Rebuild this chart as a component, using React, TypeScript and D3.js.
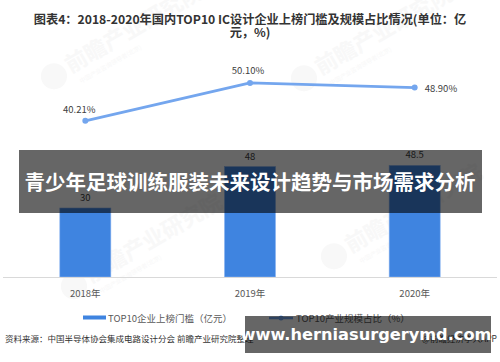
import React from 'react'
import * as d3 from 'd3'

const years = ['2018年', '2019年', '2020年']
const thresholds = [30, 48, 48.5]
const shares = [40.21, 50.1, 48.9]
const shareLabels = ['40.21%', '50.10%', '48.90%']

const W = 500
const H = 362
const FONT = '"Noto Sans CJK SC", "Noto Sans", sans-serif'
const BAR_COLOR = '#3f84e0'
const LINE_COLOR = '#74a6ee'

// faint logo watermarks behind the chart
const marks = [
  { x: 70, y: 60 }, { x: 320, y: 62 }, { x: 90, y: 270 }, { x: 350, y: 240 },
]

export default function App() {
  const x = d3.scaleBand<string>().domain(years).range([3, 497]).paddingInner(0.69).paddingOuter(0.345)
  const yBar = d3.scaleLinear().domain([0, 60]).range([277, 139])
  const yLine = d3.scaleLinear().domain([0, 60]).range([275, 45])
  const cx = (d: string) => (x(d) ?? 0) + x.bandwidth() / 2

  const line = d3.line<number>()
    .x((_, i) => cx(years[i]))
    .y(d => yLine(d))

  return (
    <svg width={W} height={H} style={{ position: 'absolute', left: 0, top: 0, background: '#fff' }} fontFamily={FONT}>
      {marks.map((m, i) => (
        <g key={i} transform={`translate(${m.x},${m.y}) rotate(-30)`} opacity={0.4}>
          <circle cx={-22} cy={6} r={13} fill="#eeeeee" />
          <text x={-6} y={12} fontSize={22} fontWeight="bold" fill="#eeeeee">前瞻产业研究院</text>
          <text x={-2} y={26} fontSize={6} fill="#eeeeee">中国产业咨询领导者(北京)</text>
        </g>
      ))}

      <text x={250} y={24} textAnchor="middle" fontSize={12.2} fontWeight="bold" fill="#333">
        图表4：2018-2020年国内TOP10 IC设计企业上榜门槛及规模占比情况(单位：亿
      </text>
      <text x={250} y={37} textAnchor="middle" fontSize={12.2} fontWeight="bold" fill="#333">元，%)</text>

      {years.map((d, i) => (
        <g key={d}>
          <rect x={x(d)} y={yBar(thresholds[i])} width={x.bandwidth()} height={yBar(0) - yBar(thresholds[i])}
            fill={BAR_COLOR} stroke="#8db5f0" strokeWidth={0.6} />
          <text x={cx(d)} y={yBar(thresholds[i]) - 7} textAnchor="middle" fontSize={9.5} fill="#404040">
            {thresholds[i]}
          </text>
        </g>
      ))}

      <line x1={3} x2={497} y1={277.5} y2={277.5} stroke="#d9d9d9" strokeWidth={1} />
      {years.map(d => (
        <text key={d} x={cx(d)} y={297} textAnchor="middle" fontSize={9.5} fill="#595959">{d}</text>
      ))}

      <path d={line(shares) ?? ''} fill="none" stroke={LINE_COLOR} strokeWidth={2.8} strokeLinejoin="round" />
      {shares.map((v, i) => (
        <circle key={i} cx={cx(years[i])} cy={yLine(v)} r={3} fill={LINE_COLOR} />
      ))}
      <text x={cx(years[0]) - 6} y={yLine(shares[0]) - 8} textAnchor="middle" fontSize={9.5} fill="#404040">{shareLabels[0]}</text>
      <text x={cx(years[1]) - 2} y={yLine(shares[1]) - 9} textAnchor="middle" fontSize={9.5} fill="#404040">{shareLabels[1]}</text>
      <text x={cx(years[2]) + 10} y={yLine(shares[2]) + 4} textAnchor="start" fontSize={9.5} fill="#404040">{shareLabels[2]}</text>

      <rect x={83} y={315.5} width={23} height={4} fill={BAR_COLOR} />
      <text x={108} y={321.5} fontSize={9.5} fill="#595959">TOP10企业上榜门槛（亿元）</text>
      <line x1={269} x2={293} y1={318} y2={318} stroke={LINE_COLOR} strokeWidth={2.5} />
      <circle cx={281} cy={318} r={2.5} fill={LINE_COLOR} />
      <text x={296} y={321.5} fontSize={9.5} fill="#595959">TOP10产业规模占比（%）</text>

      <text x={5} y={342} fontSize={8.5} fill="#333">资料来源：中国半导体协会集成电路设计分会 前瞻产业研究院整理</text>
      <text x={497} y={342} textAnchor="end" fontSize={8.5} fill="#333">@前瞻经济学人APP</text>

      <rect x={19} y={150} width={463} height={63} fill="rgba(0,0,0,0.6)" />
      <text x={250} y={190} textAnchor="middle" fontSize={20.5} fontWeight="bold" fill="#fff">
        青少年足球训练服装未来设计趋势与市场需求分析
      </text>

      <rect x={245} y={316} width={246} height={37} fill="rgba(0,0,0,0.6)" />
      <text x={366} y={340} textAnchor="middle" fontSize={16.2} fontWeight="bold" fill="#fff"
        fontFamily='"DejaVu Sans", "Noto Sans", sans-serif'>www.herniasurgerymd.com</text>
    </svg>
  )
}
